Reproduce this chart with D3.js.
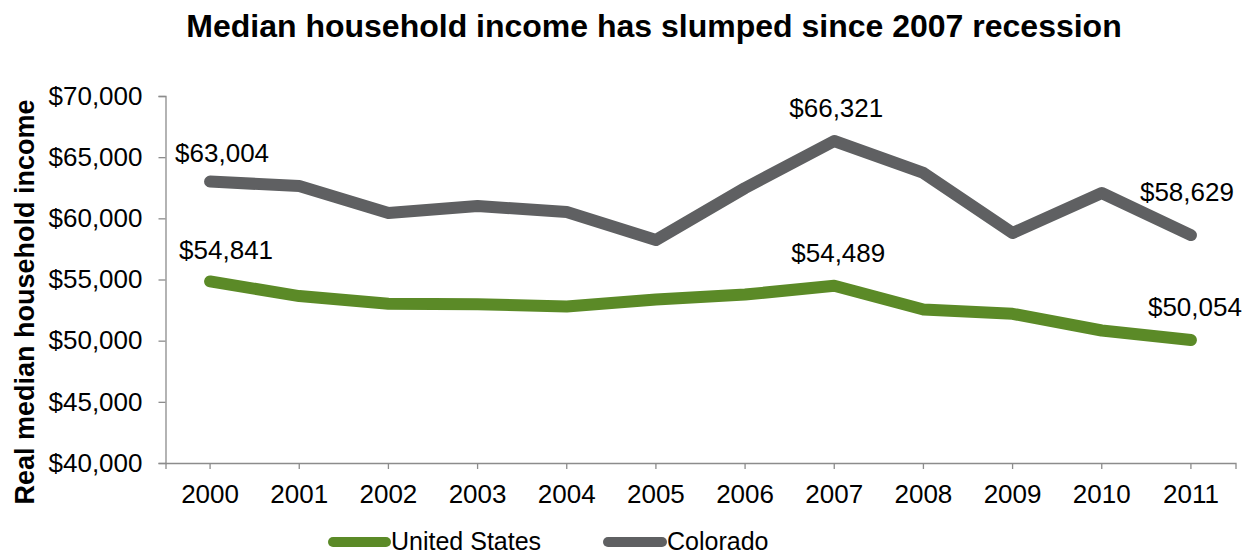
<!DOCTYPE html>
<html>
<head>
<meta charset="utf-8">
<script src="https://cdn.jsdelivr.net/npm/d3@7/dist/d3.min.js"></script>
<style>
  html, body { margin: 0; padding: 0; background: #ffffff; }
  svg { display: block; font-family: "Liberation Sans", Arial, sans-serif; }
</style>
</head>
<body>
<svg id="chart" width="1250" height="556"></svg>
<script>
// Real median household income, 2000-2011
const years = ["2000", "2001", "2002", "2003", "2004", "2005", "2006", "2007", "2008", "2009", "2010", "2011"];
const unitedStates = [54841, 53646, 53019, 52973, 52788, 53371, 53768, 54489, 52546, 52195, 50831, 50054];
const colorado = [63004, 62640, 60440, 61010, 60520, 58230, 62480, 66321, 63710, 58800, 62070, 58629];
const yTicks = [40000, 45000, 50000, 55000, 60000, 65000, 70000];
const seriesNames = ["United States", "Colorado"];

const title = "Median household income has slumped since 2007 recession";
const yTitle = "Real median household income";

const colors = { "United States": "#5b8a27", "Colorado": "#5f6062" };
const axisColor = "#8c8c8c";

const series = [
  { name: seriesNames[0], values: unitedStates },
  { name: seriesNames[1], values: colorado }
];

// Which points carry a value label, and where the label sits relative to the point
const labelSpots = {
  "United States": [{ i: 0, dx: 16, dy: -22 }, { i: 7, dx: 4, dy: -24 }, { i: 11, dx: 4, dy: -24 }],
  "Colorado": [{ i: 0, dx: 12, dy: -20 }, { i: 7, dx: 2, dy: -24 }, { i: 11, dx: -4, dy: -34 }]
};

const svg = d3.select("#chart");
const plot = { left: 165.5, right: 1235.5, top: 96, bottom: 463 };

const x = d3.scaleBand().domain(years).range([plot.left, plot.right]);
const y = d3.scaleLinear().domain([40000, 70000]).range([plot.bottom, plot.top]);
const cx = d => x(d) + x.bandwidth() / 2;

const money = v => "$" + d3.format(",")(v);

// Title
svg.append("text")
  .attr("x", 654).attr("y", 37)
  .attr("text-anchor", "middle")
  .attr("font-size", 32).attr("font-weight", "bold")
  .attr("fill", "#000")
  .text(title);

// Y axis
const yAxis = svg.append("g")
  .attr("transform", `translate(${plot.left},0)`)
  .call(d3.axisLeft(y).tickValues(yTicks).tickSize(7).tickPadding(16).tickFormat(money));
yAxis.select(".domain").attr("stroke", axisColor).attr("stroke-width", 1.3);
yAxis.selectAll(".tick line").attr("stroke", axisColor).attr("stroke-width", 1.3);
yAxis.selectAll(".tick text")
  .attr("font-size", 26).attr("fill", "#000")
  .attr("font-family", "Liberation Sans, Arial, sans-serif");

// X axis
const xAxis = svg.append("g")
  .attr("transform", `translate(0,${plot.bottom})`)
  .call(d3.axisBottom(x).tickSize(6).tickSizeOuter(6).tickPadding(16));
xAxis.select(".domain").attr("stroke", axisColor).attr("stroke-width", 1.3);
xAxis.selectAll(".tick line").attr("stroke", axisColor).attr("stroke-width", 1.3);
xAxis.selectAll(".tick text")
  .attr("font-size", 26).attr("fill", "#000")
  .attr("font-family", "Liberation Sans, Arial, sans-serif");

// Y axis title
svg.append("text")
  .attr("transform", "translate(34,302) rotate(-90)")
  .attr("text-anchor", "middle")
  .attr("font-size", 27).attr("font-weight", "bold")
  .attr("fill", "#000")
  .text(yTitle);

// Lines
const line = d3.line()
  .x((d, i) => cx(years[i]))
  .y(d => y(d));

svg.append("g").selectAll("path")
  .data(series)
  .join("path")
  .attr("d", s => line(s.values))
  .attr("fill", "none")
  .attr("stroke", s => colors[s.name])
  .attr("stroke-width", 12)
  .attr("stroke-linejoin", "round")
  .attr("stroke-linecap", "round");

// Value labels
series.forEach(s => {
  svg.append("g").selectAll("text")
    .data(labelSpots[s.name])
    .join("text")
    .attr("x", d => cx(years[d.i]) + d.dx)
    .attr("y", d => y(s.values[d.i]) + d.dy)
    .attr("text-anchor", "middle")
    .attr("font-size", 26)
    .attr("fill", "#000")
    .text(d => money(s.values[d.i]));
});

// Legend
const legendItems = [
  { name: seriesNames[0], x0: 333, x1: 386, tx: 391 },
  { name: seriesNames[1], x0: 608, x1: 662, tx: 667 }
];
const legend = svg.append("g");
legendItems.forEach(it => {
  legend.append("line")
    .attr("x1", it.x0).attr("x2", it.x1)
    .attr("y1", 542).attr("y2", 542)
    .attr("stroke", colors[it.name])
    .attr("stroke-width", 10)
    .attr("stroke-linecap", "round");
  legend.append("text")
    .attr("x", it.tx).attr("y", 550)
    .attr("font-size", 25)
    .attr("fill", "#000")
    .text(it.name);
});
</script>
</body>
</html>
